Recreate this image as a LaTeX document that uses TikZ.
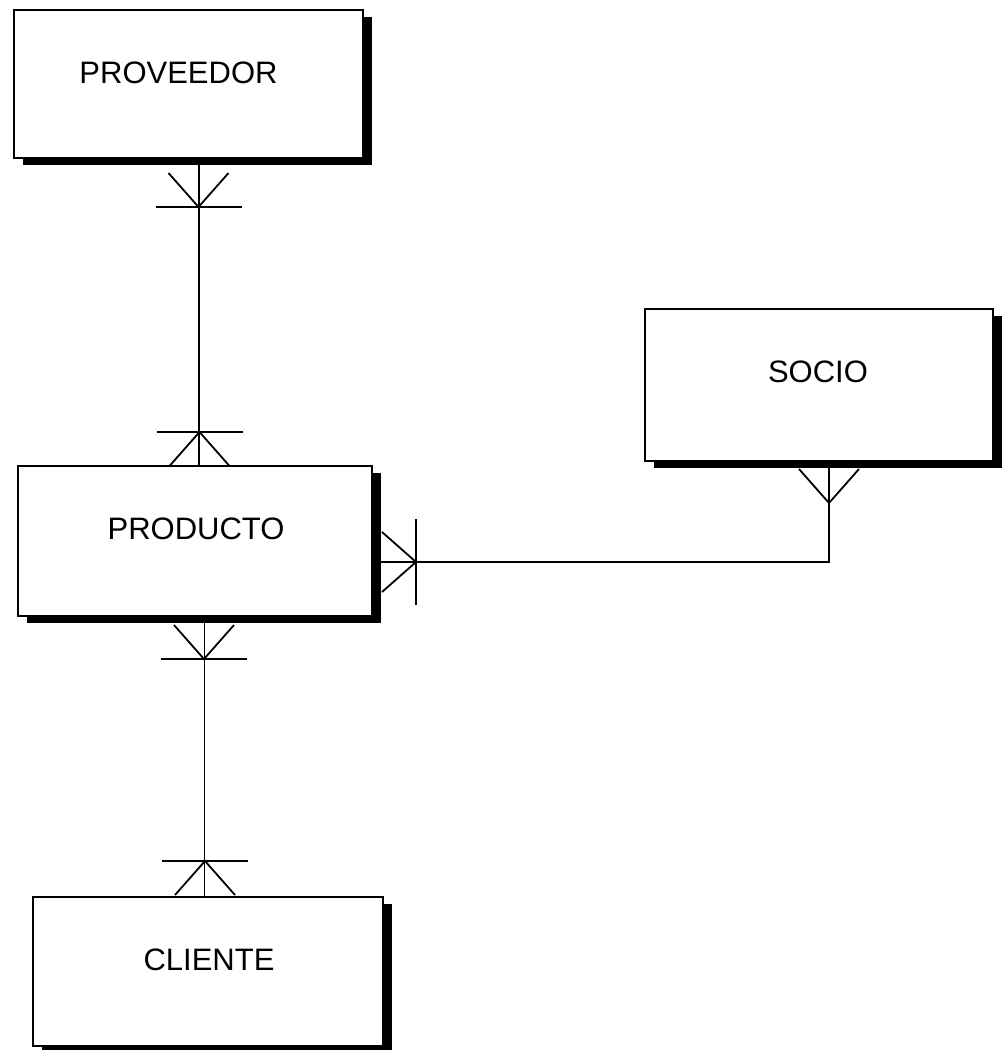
\documentclass[tikz,border=0pt]{standalone}
\usepackage{fontspec}
\setmainfont{Liberation Sans}
\usetikzlibrary{calc,shadows}

\begin{document}
\begin{tikzpicture}[x=1pt,y=1pt,
  entity/.style={draw=black, line width=1.8pt, fill=white, rectangle,
    inner sep=0pt, outer sep=0pt,
    drop shadow={shadow xshift=9pt, shadow yshift=-7pt, fill=black, opacity=1}},
  lbl/.style={font=\fontsize{31}{36}\selectfont, inner sep=0pt},
  conn/.style={line width=1.8pt, line cap=butt, line join=miter},
  pics/crowbar/.style={code={
    \draw[conn] (-30,34) -- (0,0) -- (30,34);
    \draw[conn] (-43,0) -- (43,0);}},
  pics/crowmany/.style={code={
    \draw[conn] (-30,34) -- (0,0) -- (30,34);}}
]
\useasboundingbox (0,0) rectangle (1008,-1050);

% entities
\node[entity, minimum width=349pt, minimum height=148pt] (prov)  at (188.5,-84) {};
\node[entity, minimum width=354pt, minimum height=150pt] (prod)  at (195,-541) {};
\node[entity, minimum width=348pt, minimum height=152pt] (socio) at (819,-385) {};
\node[entity, minimum width=350pt, minimum height=149pt] (cli)   at (208,-971.5) {};

% entity names
\node[lbl] (tprov)  at ($(prov.center)+(-10,11)$)  {PROVEEDOR};
\node[lbl] (tprod)  at ($(prod.center)+(1,12)$)    {PRODUCTO};
\node[lbl] (tsocio) at ($(socio.center)+(-1,13)$)  {SOCIO};
\node[lbl] (tcli)   at ($(cli.center)+(1,12)$)     {CLIENTE};

% x / y positions of the relationship lines
\coordinate (xa) at (199,0);
\coordinate (xb) at (204.5,0);
\coordinate (xc) at (829,0);
\coordinate (ya) at (0,-562);

% relationships
\draw[conn] (prov.south -| xa) -- (prod.north -| xa);
\draw[conn] (prod.south -| xb) -- (cli.north -| xb);
\draw[conn] (prod.east |- ya) -| (socio.south -| xc);

% cardinality marks
\pic at (198.5,-207) {crowbar};
\pic[rotate=180] at (199.5,-432) {crowbar};
\pic[rotate=90] at (416,-562) {crowbar};
\pic at (204,-659) {crowbar};
\pic[rotate=180] at (205,-861) {crowbar};
\pic at (829,-503) {crowmany};
\end{tikzpicture}
\end{document}
